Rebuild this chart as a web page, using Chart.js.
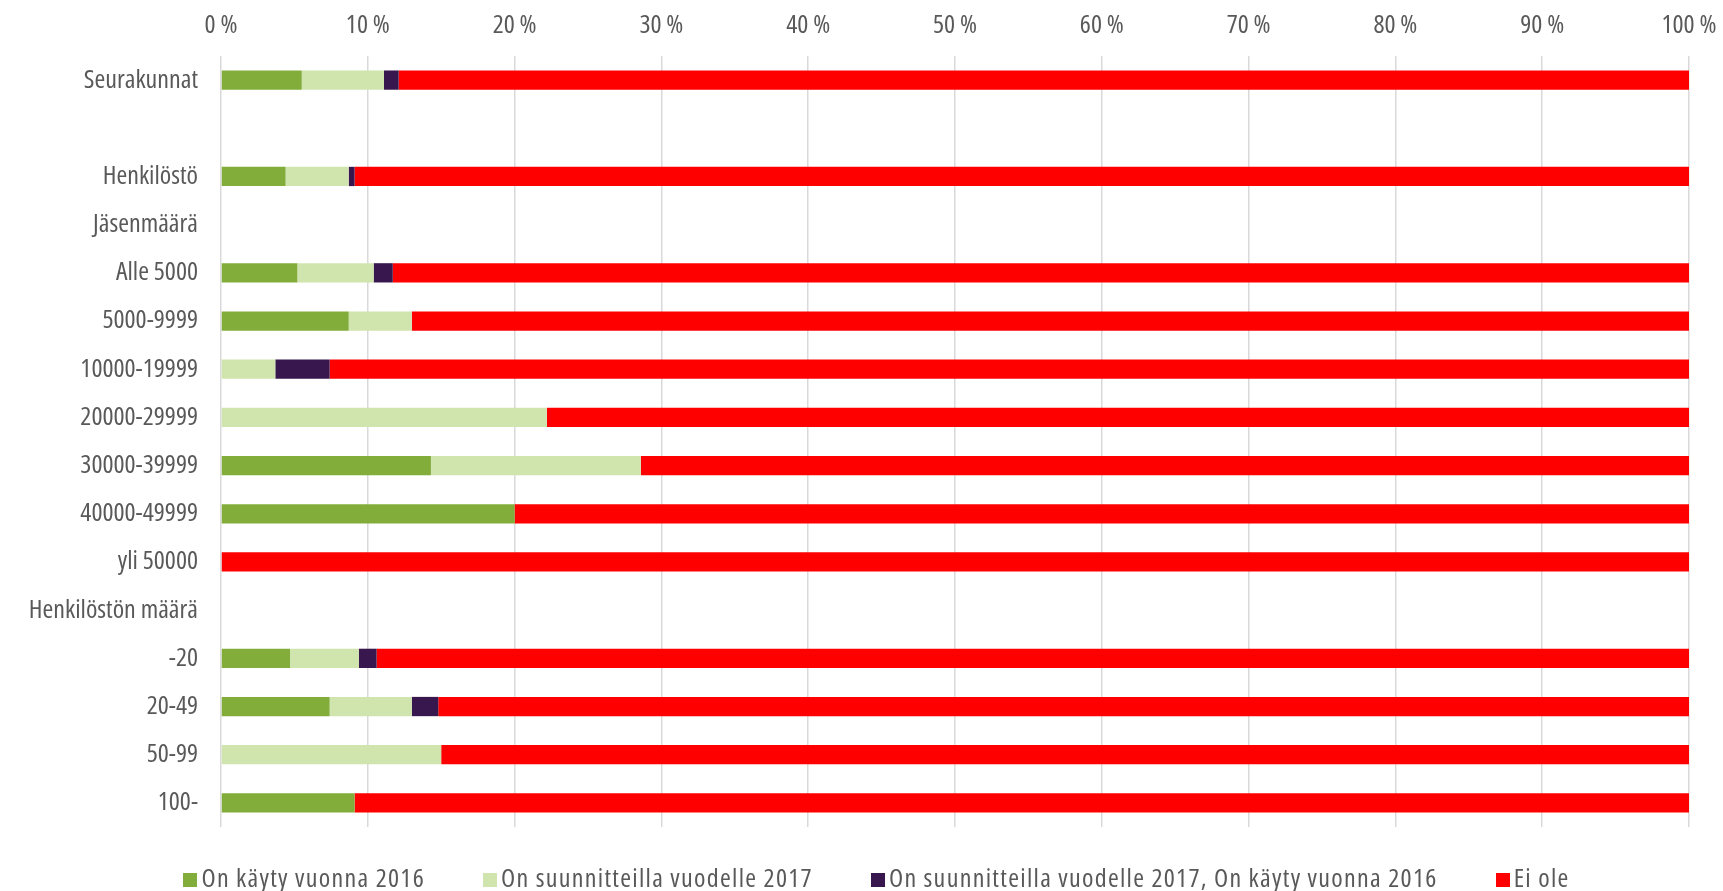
<!DOCTYPE html>
<html>
<head>
<meta charset="utf-8">
<script src="https://cdn.jsdelivr.net/npm/chart.js@4.4.1/dist/chart.umd.min.js"></script>
<style>
  html, body { margin: 0; padding: 0; background: #fff; }
  #wrap { position: relative; width: 1723px; height: 891px; }
  #legend {
    position: absolute; left: 0; right: 0; top: 861px; padding-left: 30px;
    display: flex; justify-content: center; gap: 58px;
    font-family: 'Open Sans', sans-serif; font-size: 26px; font-stretch: condensed;
    letter-spacing: 1.3px; color: #595959; line-height: 32px;
  }
  #legend span.box { display: inline-block; width: 14px; height: 14px; margin-right: 4px; vertical-align: 0px; }
</style>
</head>
<body>
<div id="wrap">
  <canvas id="chart" width="1723" height="891"></canvas>
  <div id="legend"></div>
</div>
<script>
const categories = ['Seurakunnat', '', 'Henkilöstö', 'Jäsenmäärä', 'Alle 5000', '5000-9999', '10000-19999',
  '20000-29999', '30000-39999', '40000-49999', 'yli 50000', 'Henkilöstön määrä', '-20', '20-49', '50-99', '100-'];

const kayty2016 = [5.5, null, 4.4, null, 5.2, 8.7, 0, 0, 14.3, 20, 0, null, 4.7, 7.4, 0, 9.1];
const suunnitteilla2017 = [5.6, null, 4.3, null, 5.2, 4.3, 3.7, 22.2, 14.3, 0, 0, null, 4.7, 5.6, 15, 0];
const molemmat = [1.0, null, 0.4, null, 1.3, 0, 3.7, 0, 0, 0, 0, null, 1.2, 1.8, 0, 0];
const eiOle = [87.9, null, 90.9, null, 88.3, 87.0, 92.6, 77.8, 71.4, 80, 100, null, 89.4, 85.2, 85, 90.9];

const seriesNames = ['On käyty vuonna 2016', 'On suunnitteilla vuodelle 2017',
  'On suunnitteilla vuodelle 2017, On käyty vuonna 2016', 'Ei ole'];
const seriesColors = ['#82ad3a', '#d0e4ae', '#37174e', '#ff0000'];

// canvas font shorthand takes the stretch keyword, Open Sans has a condensed face
Chart.defaults.font.family = "'Open Sans', sans-serif";
Chart.defaults.font.weight = 'condensed';
Chart.defaults.font.size = 26;
Chart.defaults.color = '#595959';

const datasets = [kayty2016, suunnitteilla2017, molemmat, eiOle].map((values, i) => ({
  label: seriesNames[i],
  data: values,
  backgroundColor: seriesColors[i],
  borderWidth: 0,
  barPercentage: 0.4,
  categoryPercentage: 1,
}));

new Chart(document.getElementById('chart').getContext('2d'), {
  type: 'bar',
  data: {labels: categories, datasets},
  options: {
    indexAxis: 'y',
    responsive: false,
    animation: false,
    devicePixelRatio: 1,
    layout: {padding: {top: 0, right: 34, bottom: 64, left: 0}},
    plugins: {legend: {display: false}, tooltip: {enabled: false}},
    scales: {
      x: {
        position: 'top',
        stacked: true,
        min: 0,
        max: 100,
        ticks: {stepSize: 10, padding: 15, callback: (v) => v + ' %'},
        grid: {color: '#d9d9d9', lineWidth: 1.5, drawTicks: false},
        border: {display: false},
        afterFit: (scale) => {
          scale.height = 56;
          scale.paddingLeft = 0;
          scale.paddingRight = 0;
        },
      },
      y: {
        stacked: true,
        grid: {display: false},
        border: {display: false},
        ticks: {padding: 15, autoSkip: false},
        afterFit: (scale) => { scale.width = 221; },
      },
    },
  },
});

const legend = document.getElementById('legend');
seriesNames.forEach((name, i) => {
  const item = document.createElement('div');
  item.innerHTML = '<span class="box" style="background:' + seriesColors[i] + '"></span>' + name;
  legend.appendChild(item);
});
</script>
</body>
</html>
